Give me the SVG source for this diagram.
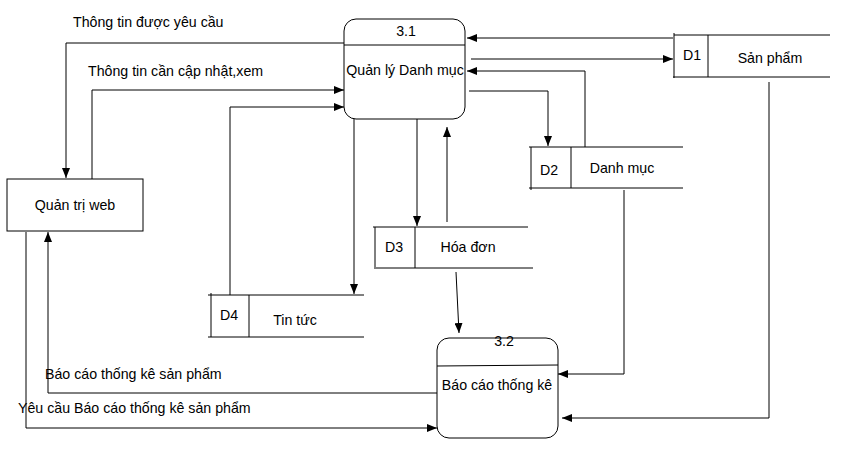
<svg xmlns="http://www.w3.org/2000/svg" width="855" height="466" viewBox="0 0 855 466">
<style>
text{font-family:"Liberation Sans",Arial,sans-serif;font-size:14.2px;fill:#000}
.c{text-anchor:middle}
.b{fill:#fff;stroke:#000;stroke-width:1}
.l{fill:none;stroke:#000;stroke-width:1}
.e{fill:none;stroke:#000;stroke-width:1;marker-end:url(#a)}
</style>
<defs>
<marker id="a" markerUnits="userSpaceOnUse" markerWidth="10" markerHeight="8" refX="10" refY="4" orient="auto">
<path d="M0,0 L10,4 L0,8 z" fill="#000"/>
</marker>
</defs>
<rect width="855" height="466" fill="#fff"/>
<g id="connectors">
<path class="e" d="M673,38 H467"/>
<path class="e" d="M471,59 H673"/>
<path class="e" d="M585,147 V71 H467"/>
<path class="e" d="M469,91 H548 V146"/>
<path class="e" d="M417,119 V226"/>
<path class="e" d="M447,222 V127"/>
<path class="e" d="M354,119 V294"/>
<path class="e" d="M230,295 V107 H344"/>
<path class="e" d="M344,43 H66 V178"/>
<path class="e" d="M92,179 V90 H344"/>
<path class="e" d="M456,272 L459,333"/>
<path class="e" d="M624,190 V374 H558"/>
<path class="e" d="M769,82 V418 H562"/>
<path class="e" d="M437,393 H48 V232"/>
<path class="e" d="M26,232 V428 H437"/>
<text x="73" y="27">Thông tin được yêu cầu</text>
<text x="88" y="76">Thông tin cần cập nhật,xem</text>
<text x="45" y="379">Báo cáo thống kê sản phẩm</text>
<text x="18" y="413">Yêu cầu Báo cáo thống kê sản phẩm</text>
</g>
<g id="p31">
<rect class="b" x="344" y="19" width="121" height="100" rx="12"/>
<line class="l" x1="344" y1="45" x2="465" y2="45"/>
<text class="c" x="406" y="36">3.1</text>
<text class="c" x="405" y="75">Quản lý Danh mục</text>
</g>
<g id="p32">
<rect class="b" x="437" y="338" width="121" height="100" rx="12"/>
<line class="l" x1="437" y1="366" x2="558" y2="365"/>
<text class="c" x="504" y="346">3.2</text>
<text class="c" x="497" y="390">Báo cáo thống kê</text>
</g>
<g id="qtw">
<rect class="b" x="7" y="179" width="136" height="52"/>
<text class="c" x="75" y="210">Quản trị web</text>
</g>
<g id="d1">
<path class="l" d="M674,35 H830 M673,77 H830 M674,33 V78 M708,35 V77"/>
<text class="c" x="692" y="60">D1</text>
<text class="c" x="770" y="63">Sản phẩm</text>
</g>
<g id="d2">
<path class="l" d="M529,147 H683 M529,188 H683 M531,147 V190 M571,147 V188"/>
<text class="c" x="549" y="175">D2</text>
<text class="c" x="622" y="173">Danh mục</text>
</g>
<g id="d3">
<path class="l" d="M373,227 H528 M376,268 H533 M375,227 V269 M415,227 V268"/>
<text class="c" x="394" y="252">D3</text>
<text class="c" x="468" y="252">Hóa đơn</text>
</g>
<g id="d4">
<path class="l" d="M208,295 H364 M208,337 H364 M211,293 V337 M249,295 V337"/>
<text class="c" x="229" y="320">D4</text>
<text class="c" x="295" y="325">Tin tức</text>
</g>
</svg>
